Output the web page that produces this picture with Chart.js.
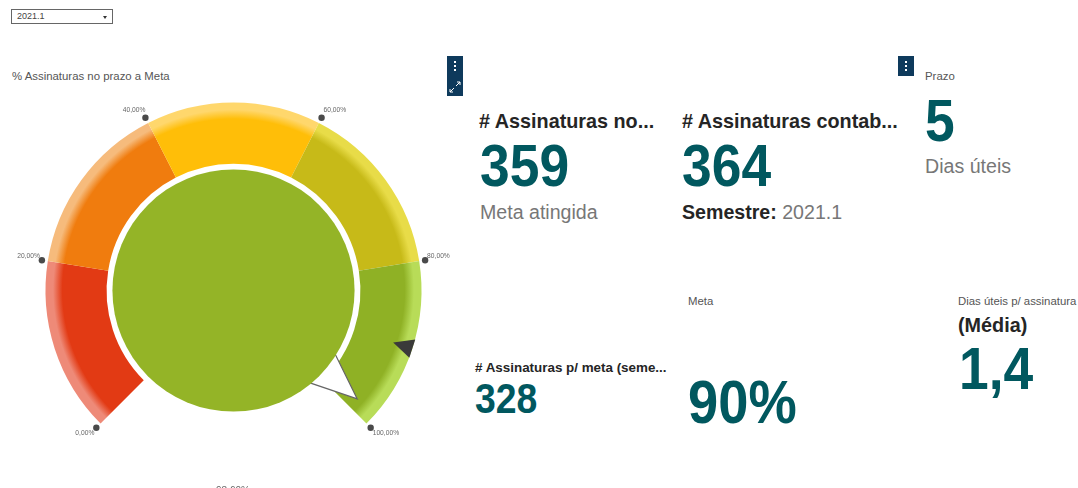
<!DOCTYPE html>
<html>
<head>
<meta charset="utf-8">
<script src="https://cdn.jsdelivr.net/npm/chart.js@4"></script>
<style>
html, body { margin: 0; width: 1078px; height: 488px; overflow: hidden; background: #fff; }
body { position: relative; font-family: "Liberation Sans", Arial, sans-serif; }
#gauge { position: absolute; left: 0; top: 60px; width: 470px; height: 428px; }
.t { position: absolute; white-space: nowrap; line-height: 1; transform-origin: left top; }
.small { font-size: 11.4px; color: #555; }
.head { font-weight: bold; color: #252525; font-size: 19.8px; }
.num { font-weight: bold; color: #01585f; font-size: 60px; transform: scaleX(.89); }
.sub { font-size: 19.6px; color: #777; }
.sub b { color: #252525; }
#sel { position: absolute; left: 11px; top: 9px; width: 100px; height: 13px; border: 1px solid #666; font-size: 9px; color: #444; line-height: 13px; text-indent: 5px; }
#sel i { position: absolute; left: 91px; top: 6px; border: 2px solid transparent; border-top: 3px solid #333; }
.btn { position: absolute; width: 16px; background: #0e3a5c; }
.btn span { position: absolute; left: 7px; width: 2px; height: 2px; background: #fff; }
</style>
</head>
<body>
<div id="sel">2021.1<i></i></div>
<div class="t small" style="left:12px;top:71px">% Assinaturas no prazo a Meta</div>
<canvas id="gauge" width="470" height="428"></canvas>

<div class="btn" style="left:447px;top:56px;height:40px">
  <span style="top:5px"></span><span style="top:9px"></span><span style="top:13px"></span>
  <svg width="16" height="16" style="position:absolute;left:0;top:23px"><path d="M3 13 L7 9 M3 13 h3 M3 13 v-3 M13 3 L9 7 M13 3 h-3 M13 3 v3" stroke="#fff" stroke-width="1" fill="none"/></svg>
</div>
<div class="btn" style="left:898px;top:56px;height:20px">
  <span style="top:5px"></span><span style="top:9px"></span><span style="top:13px"></span>
</div>

<div class="t head" style="left:479px;top:112px"># Assinaturas no...</div>
<div class="t num" style="left:480px;top:136px">359</div>
<div class="t sub" style="left:480px;top:203px">Meta atingida</div>

<div class="t head" style="left:682px;top:112px"># Assinaturas contab...</div>
<div class="t num" style="left:682px;top:136px">364</div>
<div class="t sub" style="left:682px;top:203px"><b>Semestre:</b> 2021.1</div>

<div class="t small" style="left:925px;top:71px">Prazo</div>
<div class="t num" style="left:925px;top:91px">5</div>
<div class="t sub" style="left:925px;top:157px">Dias úteis</div>

<div class="t head" style="left:475px;top:361px;font-size:13.4px"># Assinaturas p/ meta (seme...</div>
<div class="t num" style="left:475px;top:378px;font-size:42px">328</div>

<div class="t small" style="left:688px;top:296px">Meta</div>
<div class="t num" style="left:688px;top:372px;font-size:61px">90%</div>

<div class="t small" style="left:958px;top:296px">Dias úteis p/ assinatura</div>
<div class="t head" style="left:958px;top:316px">(Média)</div>
<div class="t num" style="left:959px;top:339px">1,4</div>

<script>
// faixas do medidor
const bandSizes = [20, 20, 20, 20, 20];
const bandColors = ['#e23a14', '#f07c0e', '#ffbe08', '#c7ba18', '#8fb125'];
const bandRims = ['#ee8a78', '#f6bb7c', '#ffd76c', '#e8dc48', '#b8dc58'];
const tickValues = [0, 20, 40, 60, 80, 100];
const tickLabels = ['0,00%', '20,00%', '40,00%', '60,00%', '80,00%', '100,00%'];
const gaugeValue = 98.6;
const gaugeLabel = '98,60%';
const goalValue = 90;
const gaugeMax = 100;

function bandFill(context) {
    const chart = context.chart;
    const area = chart.chartArea;
    if (!area) return bandColors[context.dataIndex];
    const r = area.width / 2;
    const cx = area.left + r;
    const cy = area.top + r;
    const g = chart.ctx.createRadialGradient(cx, cy, 0, cx, cy, r);
    g.addColorStop(0, bandColors[context.dataIndex]);
    g.addColorStop(0.91, bandColors[context.dataIndex]);
    g.addColorStop(0.96, bandRims[context.dataIndex]);
    g.addColorStop(1, bandRims[context.dataIndex]);
    return g;
}

/* ponteiro, miolo, meta e marcas, sobre os arcos */
const gaugeParts = {
    id: 'gaugeParts',
    afterDatasetsDraw(chart) {
        const arcs = chart.getDatasetMeta(0).data;
        const first = arcs[0];
        const last = arcs[arcs.length - 1];
        const x = first.x, y = first.y, R = first.outerRadius;
        const angleOf = v => first.startAngle + (last.endAngle - first.startAngle) * v / gaugeMax;
        const at = (a, r, side) => [
            x + r * Math.cos(a) - (side || 0) * Math.sin(a),
            y + r * Math.sin(a) + (side || 0) * Math.cos(a)
        ];
        const ctx = chart.ctx;
        const tri = pts => {
            ctx.beginPath();
            ctx.moveTo(pts[0][0], pts[0][1]);
            ctx.lineTo(pts[1][0], pts[1][1]);
            ctx.lineTo(pts[2][0], pts[2][1]);
            ctx.closePath();
        };
        ctx.save();

        // ponteiro
        const a = angleOf(gaugeValue);
        tri([at(a, R * 0.875), at(a, R * 0.58, 23), at(a, R * 0.58, -23)]);
        ctx.fillStyle = '#fff';
        ctx.fill();
        ctx.strokeStyle = '#666';
        ctx.lineWidth = 1.2;
        ctx.stroke();

        // miolo
        ctx.beginPath();
        ctx.arc(x, y, R * 0.644, 0, Math.PI * 2);
        ctx.fillStyle = '#94b427';
        ctx.fill();

        // meta
        const g = angleOf(goalValue);
        tri([at(g, R * 0.893), at(g, R, 9.6), at(g, R, -9.6)]);
        ctx.fillStyle = '#3a3a3a';
        ctx.fill();

        // marcas
        ctx.textBaseline = 'middle';
        ctx.font = '6.7px "Liberation Sans", Arial, sans-serif';
        tickValues.forEach((v, i) => {
            const p = at(angleOf(v), R + 6);
            ctx.beginPath();
            ctx.arc(p[0], p[1], 3.2, 0, Math.PI * 2);
            ctx.fillStyle = '#4a4a4a';
            ctx.fill();
            ctx.fillStyle = '#666';
            const left = p[0] < x;
            ctx.textAlign = left ? 'right' : 'left';
            const top = p[1] < y - R / 2;
            const dy = p[1] > y + R / 2 ? 5 : (top ? -8 : -4);
            ctx.fillText(tickLabels[i], p[0] + (left ? (top ? 0 : -2) : 2), p[1] + dy);
        });

        // valor atual, cortado na borda da pagina
        ctx.font = '10px "Liberation Sans", Arial, sans-serif';
        ctx.textAlign = 'center';
        ctx.fillStyle = '#666';
        ctx.fillText(gaugeLabel, x - 0.5, chart.height + 3);
        ctx.restore();
    }
};

new Chart(document.getElementById('gauge'), {
    type: 'doughnut',
    data: {
        labels: tickLabels.slice(1),
        datasets: [{
            data: bandSizes,
            backgroundColor: bandFill,
            borderWidth: 0
        }]
    },
    options: {
        responsive: false,
        animation: false,
        rotation: -135,
        circumference: 270,
        cutout: '67.5%',
        layout: { padding: { left: 45.5, right: 48.5, top: 42, bottom: 64 } },
        plugins: { legend: { display: false }, tooltip: { enabled: false } },
        events: []
    },
    plugins: [gaugeParts]
});
</script>
</body>
</html>
